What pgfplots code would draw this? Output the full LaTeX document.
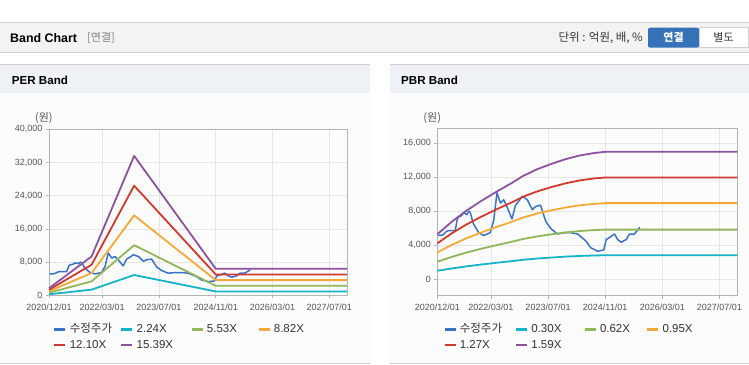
\documentclass[border=0pt]{standalone}
\usepackage{fontspec}
\setmainfont{Liberation Sans}
\newfontfamily\kr{Noto Sans CJK KR}
\usepackage{pgfplots}
\pgfplotsset{compat=1.18}
\definecolor{cPrice}{HTML}{3B73C4}
\definecolor{cC}{HTML}{17B3C7}
\definecolor{cG}{HTML}{92B65A}
\definecolor{cO}{HTML}{F4AA3A}
\definecolor{cR}{HTML}{D0392D}
\definecolor{cP}{HTML}{8E539E}
\definecolor{gridc}{HTML}{E6E6E6}
\definecolor{axisc}{HTML}{B4B4B4}
\definecolor{tickc}{HTML}{555555}
\definecolor{legc}{HTML}{333333}
\definecolor{barbg}{HTML}{F3F3F3}
\definecolor{hdrbg}{HTML}{EEF1F6}
\definecolor{bodybg}{HTML}{FCFCFC}
\definecolor{linec}{HTML}{D0D0D0}
\definecolor{btnblue}{HTML}{3572B8}

\pgfplotsset{
  bandaxis/.style={
    scale only axis, anchor=south west,
    xmin=0, xmax=84,
    xtick={0,15,31,47,63,79},
    xticklabels={2020/12/01,2022/03/01,2023/07/01,2024/11/01,2026/03/01,2027/07/01},
    grid=major, grid style={gridc, line width=0.7pt},
    axis line style={axisc, line width=0.8pt},
    tick style={axisc, line width=0.7pt},
    tick align=outside, tick pos=left, major tick length=3pt,
    ticklabel style={font=\fontsize{9}{10.5}\selectfont, text=tickc},
    /pgf/number format/assume math mode=true,
    yticklabel style={/pgf/number format/fixed, /pgf/number format/1000 sep={,}},
    scaled y ticks=false,
    xticklabel style={yshift=-2pt},
    clip=false,
    ylabel style={rotate=-90, anchor=center, font=\kr\fontsize{11}{13}\selectfont, text=tickc},
    legend image code/.code={\draw[##1, line width=2.6pt] (0pt,0pt) -- (11pt,0pt);},
    legend style={draw=none, fill=none, inner sep=0pt, anchor=north west,
      font=\fontsize{11.5}{13}\selectfont, text=legc, row sep=4pt,
      nodes={inner sep=0pt, text height=9pt, text depth=2.5pt},
      /tikz/every odd column/.append style={column sep=3pt}},
    legend columns=4, legend cell align=left,
    every axis plot/.append style={line width=1.8pt, line join=round},
  }
}

\begin{document}
\begin{tikzpicture}
\fill[white] (0pt,0pt) rectangle (749pt,-364pt);
\useasboundingbox (0pt,0pt) rectangle (749pt,-364pt);
% top bar
\fill[barbg] (0pt,-22pt) rectangle (749pt,-52.5pt);
\draw[linec, line width=0.8pt] (0pt,-22pt) -- (749pt,-22pt);
\draw[linec, line width=1pt] (0pt,-52.5pt) -- (749pt,-52.5pt);
\node[anchor=west, inner sep=0pt, font=\bfseries\fontsize{12.4}{14}\selectfont] at (10pt,-38pt) {Band Chart};
\node[anchor=west, inner sep=0pt, text=gray, font=\kr\fontsize{11}{13}\selectfont] at (87pt,-38pt) {[연결]};
\node[anchor=east, inner sep=0pt, text=legc, font=\kr\fontsize{11.5}{13}\selectfont] at (643pt,-38pt) {단위 : 억원, 배, \%};
\fill[btnblue, rounded corners=2pt] (648pt,-27.7pt) rectangle (699pt,-47.7pt);
\node[text=white, font=\kr\bfseries\fontsize{11}{12}\selectfont] at (673.5pt,-37.7pt) {연결};
\draw[linec, fill=white, line width=0.8pt] (699pt,-27.7pt) rectangle (748.5pt,-47.7pt);
\node[text=legc, font=\kr\fontsize{11}{12}\selectfont] at (723.5pt,-37.7pt) {별도};
% panels
\fill[bodybg] (0pt,-64.3pt) rectangle (370pt,-363.3pt);
\fill[hdrbg] (0pt,-64.3pt) rectangle (370pt,-92.7pt);
\draw[linec, line width=0.8pt] (0pt,-64.3pt) -- (370pt,-64.3pt);
\draw[linec, line width=0.8pt] (0pt,-363.3pt) -- (370pt,-363.3pt);
\node[anchor=west, inner sep=0pt, font=\bfseries\fontsize{11.6}{14}\selectfont] at (11.7pt,-80.7pt) {PER Band};
\fill[bodybg] (390pt,-64.3pt) rectangle (749pt,-363.3pt);
\fill[hdrbg] (390pt,-64.3pt) rectangle (749pt,-92.7pt);
\draw[linec, line width=0.8pt] (390pt,-64.3pt) -- (749pt,-64.3pt);
\draw[linec, line width=0.8pt] (390pt,-363.3pt) -- (749pt,-363.3pt);
\node[anchor=west, inner sep=0pt, font=\bfseries\fontsize{11.6}{14}\selectfont] at (401pt,-80.7pt) {PBR Band};

% PER axis
\begin{axis}[bandaxis, at={(49pt,-295.3pt)}, width=298pt, height=166pt,
  ymin=0, ymax=40000, ytick={0,8000,16000,24000,32000,40000},
  ylabel={(원)}, ylabel style={at={(axis description cs:-0.017,1.066)}},
  legend style={at={(axis description cs:0.0134,-0.17)}}]
\addplot[cPrice, line width=1.5pt] coordinates {
(0.1,5160) (1.5,5200) (2.6,5650) (3.1,5720) (5.0,5720) (5.6,7100) (6.0,7350) (6.8,7500) (7.3,7800) (7.8,7760) (8.3,7600) (8.8,8000) (9.2,7900) (10.1,6540) (11.6,5480) (13.0,5160) (14.8,5480) (15.8,6930) (16.7,10180) (17.7,8970) (18.6,9360) (19.5,8560) (20.9,7100) (21.9,8730) (23.0,9300) (23.8,9770) (25.2,9360) (26.6,8200) (27.5,8560) (28.9,8730) (30.4,6780) (31.8,5960) (33.6,5330) (35.5,5480) (37.4,5480) (39.3,5330) (41.6,4510) (43.0,3710) (44.9,3300) (46.6,3450) (47.3,4680) (48.2,4920) (49.6,5330) (50.5,4680) (51.5,4360) (52.9,4680) (53.8,5330) (55.2,5330) (56.7,6130)};
\addlegendentry{\makebox[50.3pt][l]{\kr\fontsize{11.5}{13}\selectfont 수정주가}}
\addplot[cC] coordinates {(0,246) (12,1362) (24,4890) (47,930) (84,930)};
\addlegendentry{\makebox[53.7pt][l]{2.24X}}
\addplot[cG] coordinates {(0,608) (12,3362) (24,12072) (47,2295) (84,2295)};
\addlegendentry{\makebox[50.3pt][l]{5.53X}}
\addplot[cO] coordinates {(0,970) (12,5363) (24,19254) (47,3660) (84,3660)};
\addlegendentry{\makebox[50pt][l]{8.82X}}
\addplot[cR] coordinates {(0,1331) (12,7357) (24,26414) (47,5022) (84,5022)};
\addlegendentry{\makebox[50.3pt][l]{12.10X}}
\addplot[cP] coordinates {(0,1693) (12,9357) (24,33596) (47,6387) (84,6387)};
\addlegendentry{\makebox[53.7pt][l]{15.39X}}
\end{axis}

% PBR axis
\begin{axis}[bandaxis, at={(437.3pt,-295.7pt)}, width=300pt, height=167.4pt,
  ymin=-1930, ymax=17770, ytick={0,4000,8000,12000,16000},
  ylabel={(원)}, ylabel style={at={(axis description cs:-0.017,1.06)}},
  legend style={at={(axis description cs:0.019,-0.167)}}]
\addplot[cPrice, line width=1.5pt] coordinates {
(0.1,5160) (1.5,5200) (2.6,5650) (3.1,5720) (5.0,5720) (5.6,7100) (6.0,7350) (6.8,7500) (7.3,7800) (7.8,7760) (8.3,7600) (8.8,8000) (9.2,7900) (10.1,6540) (11.6,5480) (13.0,5160) (14.8,5480) (15.8,6930) (16.7,10180) (17.7,8970) (18.6,9360) (19.5,8560) (20.9,7100) (21.9,8730) (23.0,9300) (23.8,9770) (25.2,9360) (26.6,8200) (27.5,8560) (28.9,8730) (30.4,6780) (31.8,5960) (33.6,5330) (35.5,5480) (37.4,5480) (39.3,5330) (41.6,4510) (43.0,3710) (44.9,3300) (46.6,3450) (47.3,4680) (48.2,4920) (49.6,5330) (50.5,4680) (51.5,4360) (52.9,4680) (53.8,5330) (55.2,5330) (56.7,6130)};
\addlegendentry{\makebox[55pt][l]{\kr\fontsize{11.5}{13}\selectfont 수정주가}}
\addplot[cC] coordinates {(0,999) (4,1275) (8,1515) (12,1725) (17,1965) (21,2145) (24,2295) (28,2445) (32,2565) (36,2670) (40,2751) (44,2805) (47,2830) (84,2830)};
\addlegendentry{\makebox[52pt][l]{0.30X}}
\addplot[cG] coordinates {(0,2065) (4,2635) (8,3131) (12,3565) (17,4061) (21,4433) (24,4743) (28,5053) (32,5301) (36,5518) (40,5685) (44,5797) (47,5849) (84,5849)};
\addlegendentry{\makebox[46pt][l]{0.62X}}
\addplot[cO] coordinates {(0,3164) (4,4038) (8,4798) (12,5463) (17,6223) (21,6793) (24,7268) (28,7743) (32,8123) (36,8455) (40,8712) (44,8883) (47,8962) (84,8962)};
\addlegendentry{\makebox[46pt][l]{0.95X}}
\addplot[cR] coordinates {(0,4229) (4,5398) (8,6414) (12,7303) (17,8319) (21,9081) (24,9716) (28,10351) (32,10859) (36,11303) (40,11646) (44,11875) (47,11981) (84,11981)};
\addlegendentry{\makebox[55pt][l]{1.27X}}
\addplot[cP] coordinates {(0,5295) (4,6758) (8,8030) (12,9143) (17,10415) (21,11369) (24,12164) (28,12959) (32,13595) (36,14151) (40,14580) (44,14867) (47,15000) (84,15000)};
\addlegendentry{\makebox[52pt][l]{1.59X}}
\end{axis}
\end{tikzpicture}
\end{document}
